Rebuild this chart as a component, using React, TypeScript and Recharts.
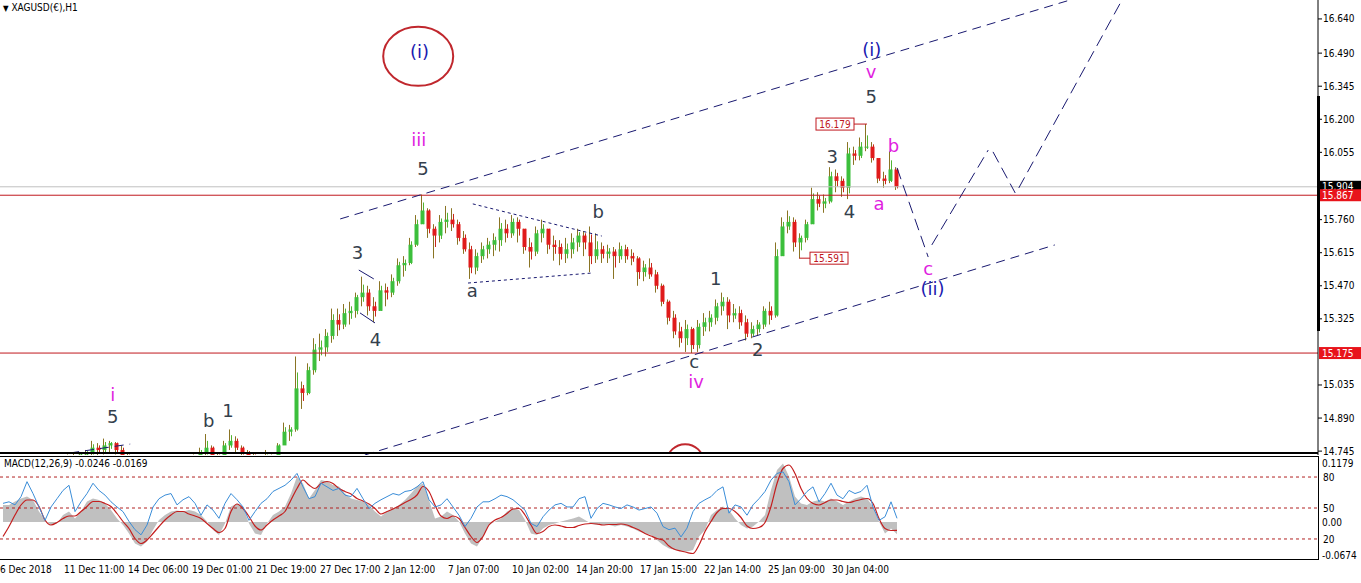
import React from 'react';
import { ComposedChart, Bar, Line, Area, XAxis, YAxis, ReferenceLine, ReferenceDot } from 'recharts';

// 6-hour slots (one slot = 6 px)
const highs = [
  14.62, 14.64, 14.66, 14.65, 14.64, 14.67, 14.69, 14.68, 14.70, 14.71,
  14.72, 14.73, 14.735, 14.74, 14.75, 14.79, 14.78, 14.80, 14.79, 14.785,
  14.77, 14.74, 14.71, 14.68, 14.66, 14.65, 14.64, 14.66, 14.67, 14.69,
  14.70, 14.72, 14.73, 14.76, 14.82, 14.77, 14.74, 14.79, 14.84, 14.81,
  14.77, 14.75, 14.74, 14.72, 14.75, 14.73, 14.78, 14.87, 14.86, 15.16,
  15.05, 15.13, 15.24, 15.26, 15.28, 15.37, 15.37, 15.39, 15.40, 15.44,
  15.51, 15.47, 15.42, 15.49, 15.48, 15.52, 15.59, 15.60, 15.68, 15.78,
  15.87, 15.81, 15.74, 15.78, 15.82, 15.81, 15.76, 15.71, 15.66, 15.63,
  15.66, 15.68, 15.70, 15.77, 15.76, 15.78, 15.77, 15.72, 15.68, 15.73,
  15.76, 15.72, 15.69, 15.67, 15.68, 15.70, 15.72, 15.71, 15.73, 15.70,
  15.66, 15.65, 15.64, 15.66, 15.65, 15.63, 15.60, 15.58, 15.59, 15.54,
  15.48, 15.41, 15.36, 15.31, 15.32, 15.29, 15.32, 15.35, 15.36, 15.41,
  15.44, 15.42, 15.39, 15.38, 15.34, 15.31, 15.32, 15.38, 15.40, 15.66,
  15.77, 15.80, 15.77, 15.70, 15.76, 15.90, 15.88, 15.87, 15.99, 15.98,
  15.95, 16.10, 16.08, 16.12, 16.179, 16.10, 16.03, 15.97, 16.06, 15.99,
];
const lows = [
  14.56, 14.58, 14.60, 14.59, 14.58, 14.61, 14.63, 14.62, 14.64, 14.66,
  14.67, 14.68, 14.69, 14.70, 14.71, 14.72, 14.72, 14.73, 14.74, 14.73,
  14.70, 14.67, 14.64, 14.61, 14.59, 14.58, 14.57, 14.59, 14.60, 14.62,
  14.63, 14.65, 14.67, 14.69, 14.72, 14.70, 14.68, 14.71, 14.75, 14.74,
  14.72, 14.69, 14.68, 14.66, 14.67, 14.67, 14.72, 14.78, 14.79, 14.83,
  14.93, 14.99, 15.08, 15.14, 15.16, 15.22, 15.25, 15.28, 15.30, 15.33,
  15.38, 15.34, 15.31, 15.36, 15.38, 15.42, 15.47, 15.51, 15.56, 15.64,
  15.74, 15.68, 15.59, 15.66, 15.70, 15.71, 15.65, 15.61, 15.50, 15.52,
  15.57, 15.59, 15.60, 15.62, 15.66, 15.68, 15.66, 15.61, 15.55, 15.60,
  15.66, 15.61, 15.58, 15.56, 15.57, 15.59, 15.62, 15.60, 15.53, 15.57,
  15.57, 15.57, 15.50, 15.57, 15.57, 15.56, 15.47, 15.49, 15.50, 15.44,
  15.38, 15.30, 15.24, 15.20, 15.18, 15.175, 15.18, 15.25, 15.27, 15.30,
  15.34, 15.28, 15.31, 15.28, 15.23, 15.24, 15.25, 15.28, 15.30, 15.33,
  15.60, 15.70, 15.62, 15.591, 15.66, 15.74, 15.80, 15.79, 15.83, 15.88,
  15.86, 15.85, 16.00, 16.02, 16.06, 16.01, 15.92, 15.90, 15.92, 15.89,
];
const closes = [
  14.60, 14.62, 14.63, 14.61, 14.62, 14.65, 14.66, 14.65, 14.68, 14.69,
  14.70, 14.71, 14.72, 14.73, 14.74, 14.76, 14.75, 14.77, 14.78, 14.75,
  14.72, 14.69, 14.66, 14.63, 14.62, 14.60, 14.61, 14.63, 14.64, 14.66,
  14.67, 14.69, 14.71, 14.74, 14.76, 14.72, 14.71, 14.77, 14.79, 14.76,
  14.74, 14.72, 14.70, 14.69, 14.71, 14.70, 14.77, 14.83, 14.84, 15.02,
  15.00, 15.10, 15.19, 15.20, 15.25, 15.32, 15.30, 15.35, 15.36, 15.42,
  15.44, 15.38, 15.36, 15.45, 15.44, 15.49, 15.56, 15.57, 15.65, 15.74,
  15.80, 15.72, 15.69, 15.75, 15.76, 15.74, 15.68, 15.63, 15.55, 15.60,
  15.63, 15.65, 15.67, 15.72, 15.70, 15.75, 15.72, 15.64, 15.62, 15.70,
  15.72, 15.65, 15.64, 15.61, 15.63, 15.66, 15.69, 15.66, 15.60, 15.63,
  15.61, 15.62, 15.60, 15.63, 15.60, 15.59, 15.53, 15.55, 15.52, 15.47,
  15.40, 15.33, 15.27, 15.24, 15.28, 15.21, 15.29, 15.31, 15.33, 15.38,
  15.40, 15.34, 15.35, 15.31, 15.26, 15.28, 15.30, 15.36, 15.34, 15.60,
  15.73, 15.75, 15.66, 15.68, 15.74, 15.85, 15.83, 15.84, 15.95, 15.93,
  15.90, 16.05, 16.04, 16.08, 16.08, 16.03, 15.94, 15.93, 15.98, 15.904,
];
const firstOpen = 14.58;

const macdMain = [
  0.034, 0.034, 0.041, 0.047, 0.051, 0.044, 0.021, 0.004, -0.006, -0.003,
  0.014, 0.021, 0.007, 0.021, 0.041, 0.047, 0.044, 0.037, 0.024, 0.007,
  -0.006, -0.023, -0.043, -0.049, -0.039, -0.016, 0.004, 0.014, 0.021, 0.023,
  0.021, 0.024, 0.021, 0.014, 0.001, -0.016, -0.026, -0.003, 0.031, 0.037,
  0.031, -0.003, -0.023, -0.026, -0.003, 0.014, 0.021, 0.031, 0.057, 0.091,
  0.077, 0.047, 0.064, 0.084, 0.081, 0.074, 0.071, 0.057, 0.047, 0.044,
  0.041, 0.034, 0.021, 0.011, 0.021, 0.027, 0.034, 0.044, 0.057, 0.071,
  0.077, 0.044, 0.007, 0.011, 0.021, 0.014, 0.001, -0.023, -0.043, -0.049,
  -0.029, -0.006, 0.001, 0.007, 0.021, 0.027, 0.024, 0.004, -0.023, -0.026,
  -0.013, -0.006, -0.003, 0.001, 0.004, 0.007, 0.011, 0.004, -0.003, -0.006,
  -0.006, -0.006, -0.009, -0.006, -0.009, -0.013, -0.019, -0.023, -0.026, -0.036,
  -0.046, -0.053, -0.056, -0.059, -0.059, -0.056, -0.029, -0.016, 0.014, 0.024,
  0.031, 0.024, 0.007, -0.006, -0.013, -0.009, 0.001, 0.014, 0.064, 0.104,
  0.117, 0.091, 0.051, 0.037, 0.034, 0.041, 0.044, 0.041, 0.047, 0.041,
  0.034, 0.041, 0.047, 0.051, 0.047, 0.031, 0.001, -0.023, -0.013, -0.0246,
];
const macdSignal = [
  -0.029, -0.009, 0.014, 0.034, 0.044, 0.044, 0.031, 0.004, -0.006, -0.001,
  0.007, 0.012, 0.012, 0.021, 0.031, 0.041, 0.041, 0.037, 0.031, 0.017,
  0.001, -0.013, -0.033, -0.043, -0.036, -0.023, -0.009, 0.004, 0.014, 0.021,
  0.021, 0.016, 0.012, 0.007, -0.003, -0.013, -0.021, -0.013, 0.021, 0.036,
  0.027, 0.011, -0.008, -0.016, -0.006, 0.004, 0.012, 0.021, 0.044, 0.067,
  0.084, 0.074, 0.067, 0.077, 0.081, 0.077, 0.067, 0.061, 0.056, 0.047,
  0.042, 0.036, 0.027, 0.016, 0.021, 0.026, 0.032, 0.039, 0.045, 0.054,
  0.071, 0.061, 0.034, 0.012, 0.007, 0.012, 0.007, -0.011, -0.029, -0.041,
  -0.029, -0.006, 0.004, 0.009, 0.017, 0.026, 0.027, 0.014, -0.006, -0.023,
  -0.019, -0.009, -0.006, -0.008, -0.011, -0.011, -0.007, -0.004, -0.003, -0.004,
  -0.006, -0.005, -0.005, -0.004, -0.006, -0.011, -0.016, -0.023, -0.028, -0.033,
  -0.036, -0.048, -0.055, -0.058, -0.061, -0.063, -0.046, -0.019, 0.001, 0.019,
  0.027, 0.027, 0.021, 0.009, -0.008, -0.013, -0.011, -0.001, 0.031, 0.077,
  0.107, 0.114, 0.097, 0.067, 0.047, 0.037, 0.034, 0.039, 0.044, 0.044,
  0.041, 0.039, 0.042, 0.045, 0.047, 0.037, 0.007, -0.013, -0.017, -0.0169,
];
const oscLine = [
  54.5, 56, 53, 61, 75.5, 64, 51, 38, 51, 59,
  67, 72, 46.5, 56, 64, 74, 67, 62.5, 56, 51,
  46.5, 37, 29, 24, 33.5, 51, 59, 62.5, 64, 53,
  58, 61, 54.5, 43, 53, 48, 40, 54.5, 64, 58,
  51, 38, 46.5, 54.5, 59, 66, 69, 72, 77, 83.5,
  70.5, 59, 61, 74, 70.5, 67, 69, 62.5, 61, 69,
  59, 49.5, 54.5, 58, 61, 64, 62.5, 66, 67, 70.5,
  75.5, 58, 51, 53, 59, 51, 43, 32, 40, 51,
  56, 56, 59, 62.5, 61, 58, 53, 48, 35, 32,
  41.5, 48, 53, 54.5, 51, 51, 59, 61, 40, 49.5,
  54.5, 53, 51, 49.5, 53, 51, 48, 49.5, 51, 45,
  32, 29, 30.5, 22, 30.5, 46.5, 54.5, 58, 61, 67,
  70.5, 45, 53, 51, 43, 53, 59, 66, 77, 83.5,
  85, 75.5, 53, 59, 66, 70.5, 56, 64, 74, 62.5,
  59, 67, 64, 66, 72, 51, 38, 41.5, 56, 40,
];

const dateLabels = [
  '6 Dec 2018', '11 Dec 11:00', '14 Dec 06:00', '19 Dec 01:00', '21 Dec 19:00',
  '27 Dec 17:00', '2 Jan 12:00', '7 Jan 07:00', '10 Jan 02:00', '14 Jan 20:00',
  '17 Jan 15:00', '22 Jan 14:00', '25 Jan 09:00', '30 Jan 04:00',
];
const priceTicks = [14.745, 14.89, 15.035, 15.325, 15.47, 15.615, 15.76, 16.055, 16.2, 16.345, 16.49, 16.64];
const redLevels = [15.867, 15.175];
const bidPrice = 15.904;
const macdTicks = [0.1179, 0, -0.0674];
const oscLevels = [80, 50, 20];

const W = 1361;
const PLOT_W = 1318;
const PLOT_H = 455;
const SLOTS = PLOT_W / 6;
const X_DOMAIN: [number, number] = [-0.5, SLOTS - 0.5];
const SLOTS_PER_LABEL = 64 / 6;
const dateTicks = dateLabels.map((_, k) => k * SLOTS_PER_LABEL - 0.5);

const UI_FONT = '"DejaVu Sans Condensed", "DejaVu Sans", sans-serif';
const WAVE_FONT = '"DejaVu Sans", Verdana, sans-serif';
const DARK = '#34404c';
const MAGENTA = '#e01ee0';
const BLUE = '#1a1ab0';
const NAVY = '#191970';
const LEVEL_RED = '#c0181e';

const candles = highs.map((h, i) => ({
  i,
  high: h,
  low: lows[i],
  close: closes[i],
  open: i === 0 ? firstOpen : closes[i - 1],
  range: [lows[i], h],
}));
const macdData = macdMain.map((m, i) => ({ i, macd: m, signal: macdSignal[i], osc: oscLine[i] }));

// wave count annotations (slot index, price)
const waveLabels = [
  { text: '(i)', i: 69.4, p: 16.495, color: BLUE },
  { text: 'iii', i: 69.3, p: 16.113, color: MAGENTA },
  { text: '5', i: 70.0, p: 15.985, color: DARK },
  { text: '3', i: 59.1, p: 15.616, color: DARK },
  { text: '4', i: 62.1, p: 15.234, color: DARK },
  { text: 'a', i: 78.2, p: 15.451, color: DARK },
  { text: 'b', i: 99.2, p: 15.796, color: DARK },
  { text: 'c', i: 115.2, p: 15.138, color: DARK },
  { text: 'iv', i: 115.5, p: 15.052, color: MAGENTA },
  { text: '1', i: 118.8, p: 15.5, color: DARK },
  { text: '2', i: 125.8, p: 15.19, color: DARK },
  { text: '3', i: 138.2, p: 16.037, color: DARK },
  { text: '4', i: 141.1, p: 15.796, color: DARK },
  { text: '5', i: 144.7, p: 16.298, color: DARK },
  { text: 'v', i: 144.7, p: 16.408, color: MAGENTA },
  { text: '(i)', i: 144.8, p: 16.508, color: BLUE },
  { text: 'b', i: 148.4, p: 16.087, color: MAGENTA },
  { text: 'a', i: 146.0, p: 15.829, color: MAGENTA },
  { text: 'c', i: 154.2, p: 15.544, color: MAGENTA },
  { text: '(ii)', i: 154.9, p: 15.458, color: BLUE },
  { text: 'i', i: 18.3, p: 14.991, color: MAGENTA },
  { text: '5', i: 18.3, p: 14.897, color: DARK },
  { text: 'b', i: 34.3, p: 14.879, color: DARK },
  { text: '1', i: 37.5, p: 14.921, color: DARK },
];

const channelLines = [
  [{ x: 56.2, y: 15.763 }, { x: 179.5, y: 16.736 }],
  [{ x: 60.3, y: 14.728 }, { x: 175.3, y: 15.649 }],
  [{ x: 11.2, y: 14.737 }, { x: 21.2, y: 14.776 }],
];
const projectionLines = [
  [{ x: 149.0, y: 15.987 }, { x: 154.2, y: 15.596 }],
  [{ x: 154.8, y: 15.649 }, { x: 164.2, y: 16.065 }],
  [{ x: 165.0, y: 16.057 }, { x: 168.7, y: 15.877 }],
  [{ x: 169.3, y: 15.899 }, { x: 186.5, y: 16.723 }],
];
const triangleLines = [
  [{ x: 78.3, y: 15.829 }, { x: 99.8, y: 15.688 }],
  [{ x: 77.5, y: 15.482 }, { x: 98.2, y: 15.526 }],
];
const tickLines = [
  [{ x: 59.3, y: 15.539 }, { x: 61.8, y: 15.5 }],
  [{ x: 59.5, y: 15.351 }, { x: 62.0, y: 15.307 }],
];

const Candle = (props: any) => {
  const { x, y, width, height, payload } = props;
  if (!payload) return null;
  const top = Math.min(y, y + height);
  const bottom = Math.max(y, y + height);
  const span = payload.high - payload.low || 1e-6;
  const py = (v: number) => top + ((payload.high - v) / span) * (bottom - top);
  const up = payload.close >= payload.open;
  const cx = x + width / 2;
  const yo = py(payload.open);
  const yc = py(payload.close);
  return (
    <g>
      <line x1={cx - 1} x2={cx - 1} y1={top} y2={bottom} stroke="#8a7424" strokeWidth={1} />
      <line x1={cx + 1} x2={cx + 1} y1={(top + Math.min(yo, yc)) / 2} y2={(bottom + Math.max(yo, yc)) / 2} stroke={up ? '#52b532' : '#c8281a'} strokeWidth={1} />
      <rect x={cx - 2} y={Math.min(yo, yc)} width={4} height={Math.max(1, Math.abs(yo - yc))} fill={up ? '#3cbf3c' : '#e01b1b'} />
    </g>
  );
};

const PriceTick = (props: any) => {
  const { y, payload } = props;
  return (
    <g>
      <line x1={PLOT_W} x2={PLOT_W + 4} y1={y} y2={y} stroke="#000" />
      <text x={PLOT_W + 5} y={y} dy="0.35em" fontSize={10} fontFamily={UI_FONT} fill="#000">
        {payload.value.toFixed(3)}
      </text>
    </g>
  );
};

const PriceTag = (props: any) => {
  const { viewBox, text, bg } = props;
  if (!viewBox) return null;
  const y = viewBox.y + (viewBox.height || 0) / 2;
  return (
    <g>
      <rect x={PLOT_W + 1} y={y - 6} width={W - PLOT_W - 1} height={12} fill={bg} />
      <text x={PLOT_W + 4} y={y} dy="0.35em" fill="#fff" fontSize={10} fontFamily={UI_FONT}>{text}</text>
    </g>
  );
};

const MacdTick = (props: any) => {
  const { y, payload } = props;
  const v = payload.value;
  const label = v === 0 ? '0.00' : String(v);
  return (
    <text x={PLOT_W + 4} y={y} dy="0.35em" fontSize={10} fontFamily={UI_FONT} fill="#000">{label}</text>
  );
};

const DateTick = (props: any) => {
  const { x, y, index } = props;
  return (
    <text x={x} y={y + 10} dy="0.35em" fontSize={10} fontFamily={UI_FONT} fill="#000" textAnchor="start">
      {dateLabels[index]}
    </text>
  );
};

const App = () => {
  const last = macdMain.length - 1;
  const hi = highs.indexOf(Math.max(...highs));
  const lo = lows.indexOf(15.591);
  return (
    <div style={{ position: 'absolute', left: 0, top: 0, width: W, height: 583, background: '#fff', overflow: 'hidden' }}>
      <div style={{ position: 'absolute', left: 0, top: 0 }}>
        <ComposedChart width={W} height={470} data={candles} margin={{ top: 0, right: 0, bottom: 15, left: 0 }}>
          <defs>
            <clipPath id="pricePane">
              <rect x={0} y={0} width={PLOT_W} height={PLOT_H - 2} />
            </clipPath>
          </defs>
          <XAxis type="number" dataKey="i" domain={X_DOMAIN} allowDataOverflow hide />
          <YAxis
            orientation="right"
            domain={[14.728, 16.723]}
            allowDataOverflow
            ticks={priceTicks}
            interval={0}
            tick={<PriceTick />}
            tickLine={false}
            tickSize={0}
            axisLine={{ stroke: '#000' }}
            width={W - PLOT_W}
          />
          <ReferenceLine y={bidPrice} stroke="#c0c0c0" label={<PriceTag text={bidPrice.toFixed(3)} bg="#000" />} />
          {redLevels.map((v) => (
            <ReferenceLine key={v} y={v} stroke={LEVEL_RED} label={<PriceTag text={v.toFixed(3)} bg="#e8141b" />} />
          ))}
          {channelLines.map((s, k) => (
            <ReferenceLine key={'ch' + k} segment={s} ifOverflow="hidden" stroke={NAVY} strokeDasharray="9 6" />
          ))}
          {projectionLines.map((s, k) => (
            <ReferenceLine key={'pr' + k} segment={s} ifOverflow="hidden" stroke={NAVY} strokeDasharray="12 6" />
          ))}
          {triangleLines.map((s, k) => (
            <ReferenceLine key={'tr' + k} segment={s} ifOverflow="hidden" stroke={NAVY} strokeDasharray="3 3" />
          ))}
          {tickLines.map((s, k) => (
            <ReferenceLine key={'tk' + k} segment={s} ifOverflow="hidden" stroke={NAVY} />
          ))}
          <Bar dataKey="range" shape={(p: any) => <Candle {...p} />} barSize={5} isAnimationActive={false} />
          <ReferenceDot
            x={69.2}
            y={16.476}
            shape={(p: any) => <ellipse cx={p.cx} cy={p.cy} rx={35} ry={29.5} fill="none" stroke="#c0272d" strokeWidth={2} />}
          />
          <ReferenceDot
            x={113.7}
            y={14.701}
            ifOverflow="visible"
            shape={(p: any) => (
              <ellipse clipPath="url(#pricePane)" cx={p.cx} cy={p.cy} rx={18} ry={17} fill="none" stroke="#c0272d" strokeWidth={2} />
            )}
          />
          <ReferenceDot
            x={hi}
            y={highs[hi]}
            shape={(p: any) => (
              <g>
                <line x1={p.cx - 13} x2={p.cx} y1={p.cy} y2={p.cy} stroke={LEVEL_RED} />
                <rect x={p.cx - 51} y={p.cy - 6} width={38} height={12} fill="#fff" stroke={LEVEL_RED} />
                <text x={p.cx - 32} y={p.cy} dy="0.35em" textAnchor="middle" fontSize={10} fontFamily={UI_FONT} fill={LEVEL_RED}>
                  {highs[hi].toFixed(3)}
                </text>
              </g>
            )}
          />
          <ReferenceDot
            x={lo}
            y={lows[lo]}
            shape={(p: any) => (
              <g>
                <line x1={p.cx - 2} x2={p.cx + 9} y1={p.cy} y2={p.cy} stroke={LEVEL_RED} />
                <rect x={p.cx + 9} y={p.cy - 6} width={38} height={12} fill="#fff" stroke={LEVEL_RED} />
                <text x={p.cx + 28} y={p.cy} dy="0.35em" textAnchor="middle" fontSize={10} fontFamily={UI_FONT} fill={LEVEL_RED}>
                  {lows[lo].toFixed(3)}
                </text>
              </g>
            )}
          />
          {waveLabels.map((w, k) => (
            <ReferenceDot
              key={'w' + k}
              x={w.i}
              y={w.p}
              shape={(p: any) => (
                <text x={p.cx} y={p.cy} dy="0.36em" textAnchor="middle" fontSize={18} fontFamily={WAVE_FONT} fill={w.color}>
                  {w.text}
                </text>
              )}
            />
          ))}
        </ComposedChart>
      </div>

      <div style={{ position: 'absolute', left: 0, top: 452, width: PLOT_W, height: 2, background: '#000' }} />
      <div
        style={{
          position: 'absolute',
          left: -1,
          top: 456,
          width: PLOT_W + 2,
          height: 104,
          boxSizing: 'border-box',
          border: '1px solid #000',
        }}
      />
      <div style={{ position: 'absolute', left: 1317, top: 96, width: 3, height: 235, background: '#000' }} />

      <div style={{ position: 'absolute', left: 0, top: 457 }}>
        <ComposedChart width={W} height={126} data={macdData} margin={{ top: 0, right: 0, bottom: 0, left: 0 }}>
          <XAxis
            type="number"
            dataKey="i"
            domain={X_DOMAIN}
            allowDataOverflow
            ticks={dateTicks}
            interval={0}
            tick={<DateTick />}
            tickLine={false}
            tickSize={0}
            tickMargin={0}
            axisLine={false}
            height={24}
          />
          <YAxis
            yAxisId="macd"
            orientation="right"
            domain={[-0.074, 0.13]}
            allowDataOverflow
            ticks={macdTicks}
            interval={0}
            tick={<MacdTick />}
            tickLine={false}
            tickSize={0}
            axisLine={false}
            width={W - PLOT_W}
          />
          <YAxis yAxisId="osc" hide domain={[0.6, 99.4]} allowDataOverflow />
          <Area
            yAxisId="macd"
            dataKey="macd"
            type="linear"
            stroke="none"
            fill="#c0c0c0"
            fillOpacity={1}
            baseValue={0}
            isAnimationActive={false}
          />
          {oscLevels.map((v) => (
            <ReferenceLine
              key={v}
              yAxisId="osc"
              y={v}
              stroke="#b22222"
              strokeDasharray="3 3"
              label={{ value: String(v), position: 'right', fill: '#000', fontSize: 10, fontFamily: UI_FONT }}
            />
          ))}
          <Line yAxisId="macd" dataKey="signal" type="monotone" stroke="#c41e1e" strokeWidth={1.2} dot={false} isAnimationActive={false} />
          <Line yAxisId="osc" dataKey="osc" type="linear" stroke="#3a8dd8" strokeWidth={1} dot={false} isAnimationActive={false} />
        </ComposedChart>
      </div>

      <div style={{ position: 'absolute', left: 3, top: 2, fontFamily: UI_FONT, fontSize: 10, color: '#000', whiteSpace: 'nowrap' }}>
        <span style={{ fontSize: 8 }}>▼</span> XAGUSD(€),H1
      </div>
      <div style={{ position: 'absolute', left: 4, top: 458, fontFamily: UI_FONT, fontSize: 10, color: '#000', whiteSpace: 'nowrap' }}>
        {`MACD(12,26,9) ${macdMain[last].toFixed(4)} ${macdSignal[last].toFixed(4)}`}
      </div>
    </div>
  );
};

export default App;
